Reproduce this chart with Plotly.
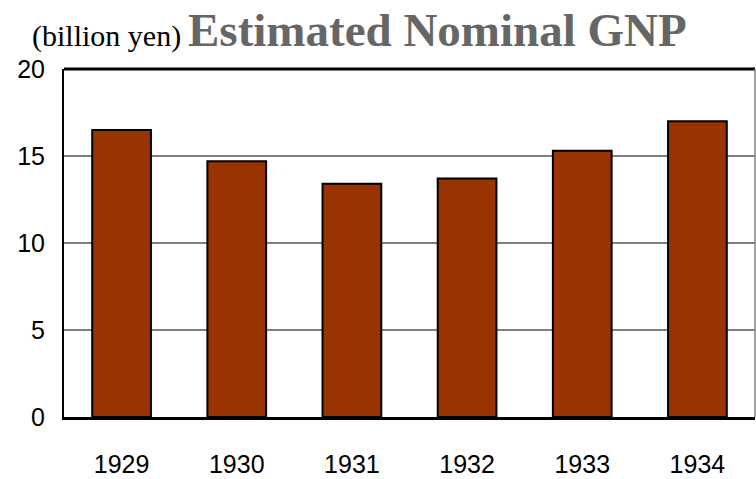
import plotly.graph_objects as go

years = ["1929", "1930", "1931", "1932", "1933", "1934"]
gnp = [16.5, 14.7, 13.4, 13.7, 15.3, 17.0]
y_ticks = [0, 5, 10, 15, 20]

W, H = 756, 479
ML, MR, MT, MB = 64, 1, 69, 62

fig = go.Figure(go.Bar(
    x=years, y=gnp, width=0.51,
    marker=dict(color="#993300", line=dict(color="black", width=2)),
))

tick_font = dict(family="Liberation Sans, Arial, sans-serif", size=25, color="black")

pw = W - ML - MR
ph = H - MT - MB
def px(xp):
    return (xp - ML) / pw
def py(yp):
    return (H - MB - yp) / ph

fig.update_layout(
    width=W, height=H,
    margin=dict(l=ML, r=MR, t=MT, b=MB, autoexpand=False),
    paper_bgcolor="white", plot_bgcolor="white",
    showlegend=False,
    xaxis=dict(type="category", showline=True, linecolor="black", linewidth=3,
               tickfont=tick_font, ticklabelstandoff=23, ticks="", showgrid=False,
               automargin=False),
    yaxis=dict(range=[0, 20], tickvals=y_ticks, showline=True, linecolor="black", linewidth=2,
               showgrid=True, gridcolor="#808080", gridwidth=1.5, zeroline=False,
               tickfont=tick_font, ticklabelstandoff=12, ticks="", automargin=False),
    shapes=[
        dict(type="line", xref="paper", yref="paper", x0=0, x1=1, y0=1, y1=1,
             line=dict(color="black", width=3)),
        dict(type="line", xref="paper", yref="paper", x0=1, x1=1, y0=0, y1=1,
             line=dict(color="#808080", width=1.5)),
    ],
    annotations=[
        dict(text="(billion yen)", x=px(30), y=py(55), xref="paper", yref="paper",
             xanchor="left", yanchor="bottom", showarrow=False,
             font=dict(family="Liberation Serif, Times New Roman, serif", size=30, color="black")),
        dict(text="<b>Estimated Nominal GNP</b>", x=px(186), y=py(58), xref="paper", yref="paper",
             xanchor="left", yanchor="bottom", showarrow=False,
             font=dict(family="Liberation Serif, Times New Roman, serif", size=47, color="#666666")),
    ],
)

fig.write_html("out.html", config={"displayModeBar": False},
               post_script="document.body.style.margin='0';document.body.style.overflow='hidden';")
